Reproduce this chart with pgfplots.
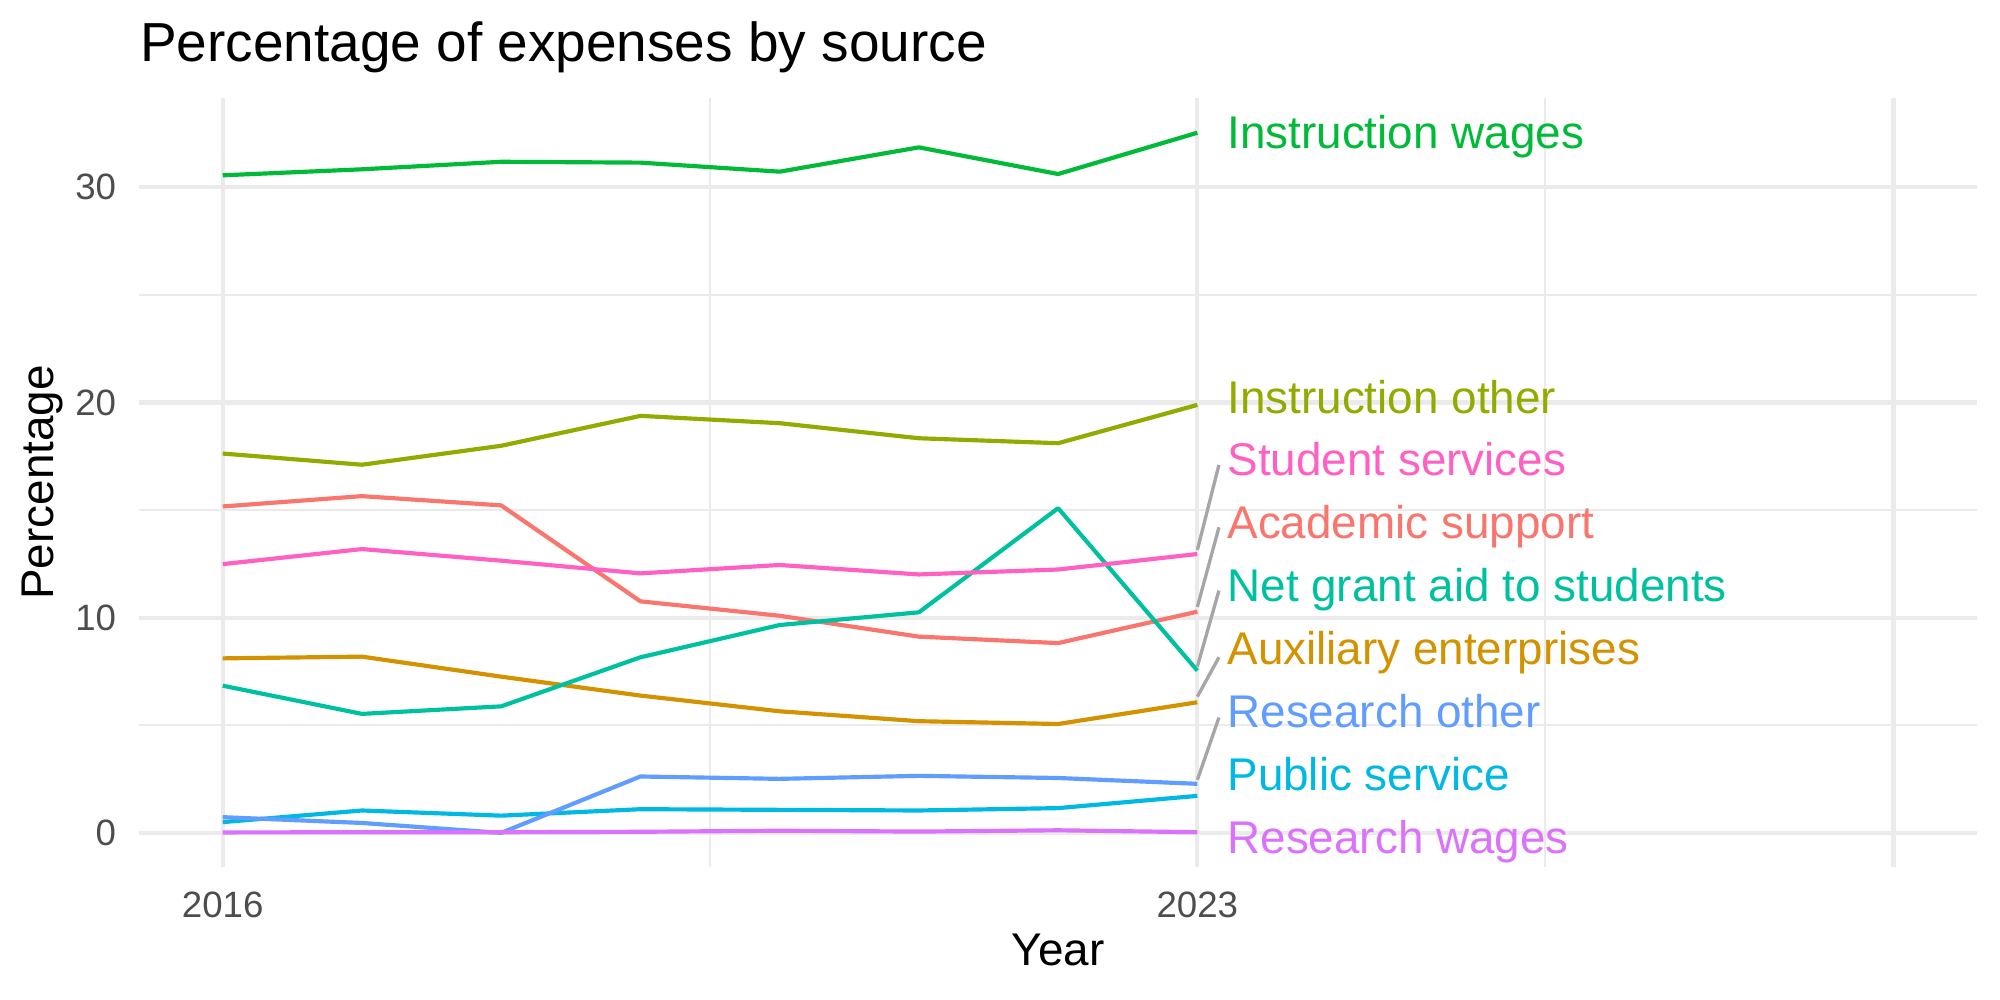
\documentclass[border=0pt]{standalone}
\usepackage{pgfplots}
\pgfplotsset{compat=1.18}
\usepackage{fontspec}
\setmainfont{Liberation Sans}
\definecolor{cAS}{HTML}{F8766D}
\definecolor{cAE}{HTML}{D39200}
\definecolor{cIO}{HTML}{93AA00}
\definecolor{cIW}{HTML}{00BA38}
\definecolor{cNG}{HTML}{00C19F}
\definecolor{cPS}{HTML}{00B9E3}
\definecolor{cRO}{HTML}{619CFF}
\definecolor{cRW}{HTML}{DB72FB}
\definecolor{cSS}{HTML}{FF61C3}
\definecolor{gridc}{HTML}{EBEBEB}
\definecolor{tickc}{HTML}{4D4D4D}
\definecolor{segc}{HTML}{A6A6A6}
\begin{document}
\begin{tikzpicture}
\path[use as bounding box] (0,0) rectangle (480pt,240pt);
\begin{axis}[
  at={(33.4pt,32pt)}, anchor=south west,
  scale only axis, width=441.1pt, height=184.4pt,
  xmin=2015.4, xmax=2028.6, ymin=-1.57, ymax=34.14,
  clip=false,
  axis line style={draw=none},
  major tick length=0pt, minor tick length=0pt,
  tick style={draw=none},
  xtick={2016,2023,2028}, xticklabels={2016,2023,{}},
  minor xtick={2019.5,2025.5},
  ytick={0,10,20,30}, yticklabels={0,10,20,30},
  minor ytick={5,15,25},
  grid=both,
  major grid style={draw=gridc, line width=1.0pt},
  minor grid style={draw=gridc, line width=0.5pt},
  ticklabel style={font=\fontsize{8.8}{10}\selectfont, text=tickc},
  yticklabel style={anchor=east, xshift=-2pt},
  xticklabel style={anchor=north, yshift=-2.5pt},
  xlabel={Year},
  ylabel={Percentage},
  label style={font=\fontsize{11}{13}\selectfont, text=black},
  xlabel style={at={(axis description cs:0.5,0)}, anchor=north, yshift=-12.7pt},
  ylabel style={at={(axis description cs:-0.0465,0.5)}, anchor=base, rotate=0},
  every axis plot/.append style={line width=1.0pt, line join=round},
]
\addplot[cAS] coordinates {(2016,15.17) (2017,15.65) (2018,15.22) (2019,10.76) (2020,10.09) (2021,9.12) (2022,8.82) (2023,10.28)};
\addplot[cAE] coordinates {(2016,8.11) (2017,8.19) (2018,7.26) (2019,6.38) (2020,5.65) (2021,5.19) (2022,5.06) (2023,6.07)};
\addplot[cIO] coordinates {(2016,17.63) (2017,17.11) (2018,17.99) (2019,19.38) (2020,19.04) (2021,18.34) (2022,18.11) (2023,19.89)};
\addplot[cIW] coordinates {(2016,30.56) (2017,30.84) (2018,31.19) (2019,31.15) (2020,30.73) (2021,31.86) (2022,30.62) (2023,32.54)};
\addplot[cNG] coordinates {(2016,6.84) (2017,5.53) (2018,5.88) (2019,8.16) (2020,9.66) (2021,10.25) (2022,15.09) (2023,7.54)};
\addplot[cPS] coordinates {(2016,0.50) (2017,1.04) (2018,0.80) (2019,1.10) (2020,1.07) (2021,1.04) (2022,1.15) (2023,1.72)};
\addplot[cRO] coordinates {(2016,0.73) (2017,0.46) (2018,0.0) (2019,2.62) (2020,2.51) (2021,2.65) (2022,2.55) (2023,2.28)};
\addplot[cRW] coordinates {(2016,0.02) (2017,0.03) (2018,0.03) (2019,0.05) (2020,0.10) (2021,0.06) (2022,0.12) (2023,0.03)};
\addplot[cSS] coordinates {(2016,12.49) (2017,13.19) (2018,12.65) (2019,12.06) (2020,12.45) (2021,12.01) (2022,12.24) (2023,12.96)};
% repel segments
\addplot[segc, line width=0.8pt] coordinates {(2023,13.15) (2023.155,17.1)};
\addplot[segc, line width=0.8pt] coordinates {(2023,10.5) (2023.155,14.2)};
\addplot[segc, line width=0.8pt] coordinates {(2023,7.73) (2023.155,11.26)};
\addplot[segc, line width=0.8pt] coordinates {(2023,6.33) (2023.155,8.16)};
\addplot[segc, line width=0.8pt] coordinates {(2023,2.46) (2023.155,5.36)};
% labels
\begin{scope}[every node/.style={anchor=base west, inner sep=0pt, font=\fontsize{11}{13}\selectfont}]
\node[text=cIW] at (axis cs:2023.21,31.8) {Instruction wages};
\node[text=cIO] at (axis cs:2023.21,19.5) {Instruction other};
\node[text=cSS] at (axis cs:2023.21,16.63) {Student services};
\node[text=cAS] at (axis cs:2023.21,13.69) {Academic support};
\node[text=cNG] at (axis cs:2023.21,10.75) {Net grant aid to students};
\node[text=cAE] at (axis cs:2023.21,7.81) {Auxiliary enterprises};
\node[text=cRO] at (axis cs:2023.21,4.9) {Research other};
\node[text=cPS] at (axis cs:2023.21,1.99) {Public service};
\node[text=cRW] at (axis cs:2023.21,-0.95) {Research wages};
\end{scope}
\node[anchor=base west, inner sep=0pt, font=\fontsize{13.2}{15}\selectfont] at ([yshift=8.8pt]axis description cs:0,1) {Percentage of expenses by source};
\end{axis}
\end{tikzpicture}
\end{document}
